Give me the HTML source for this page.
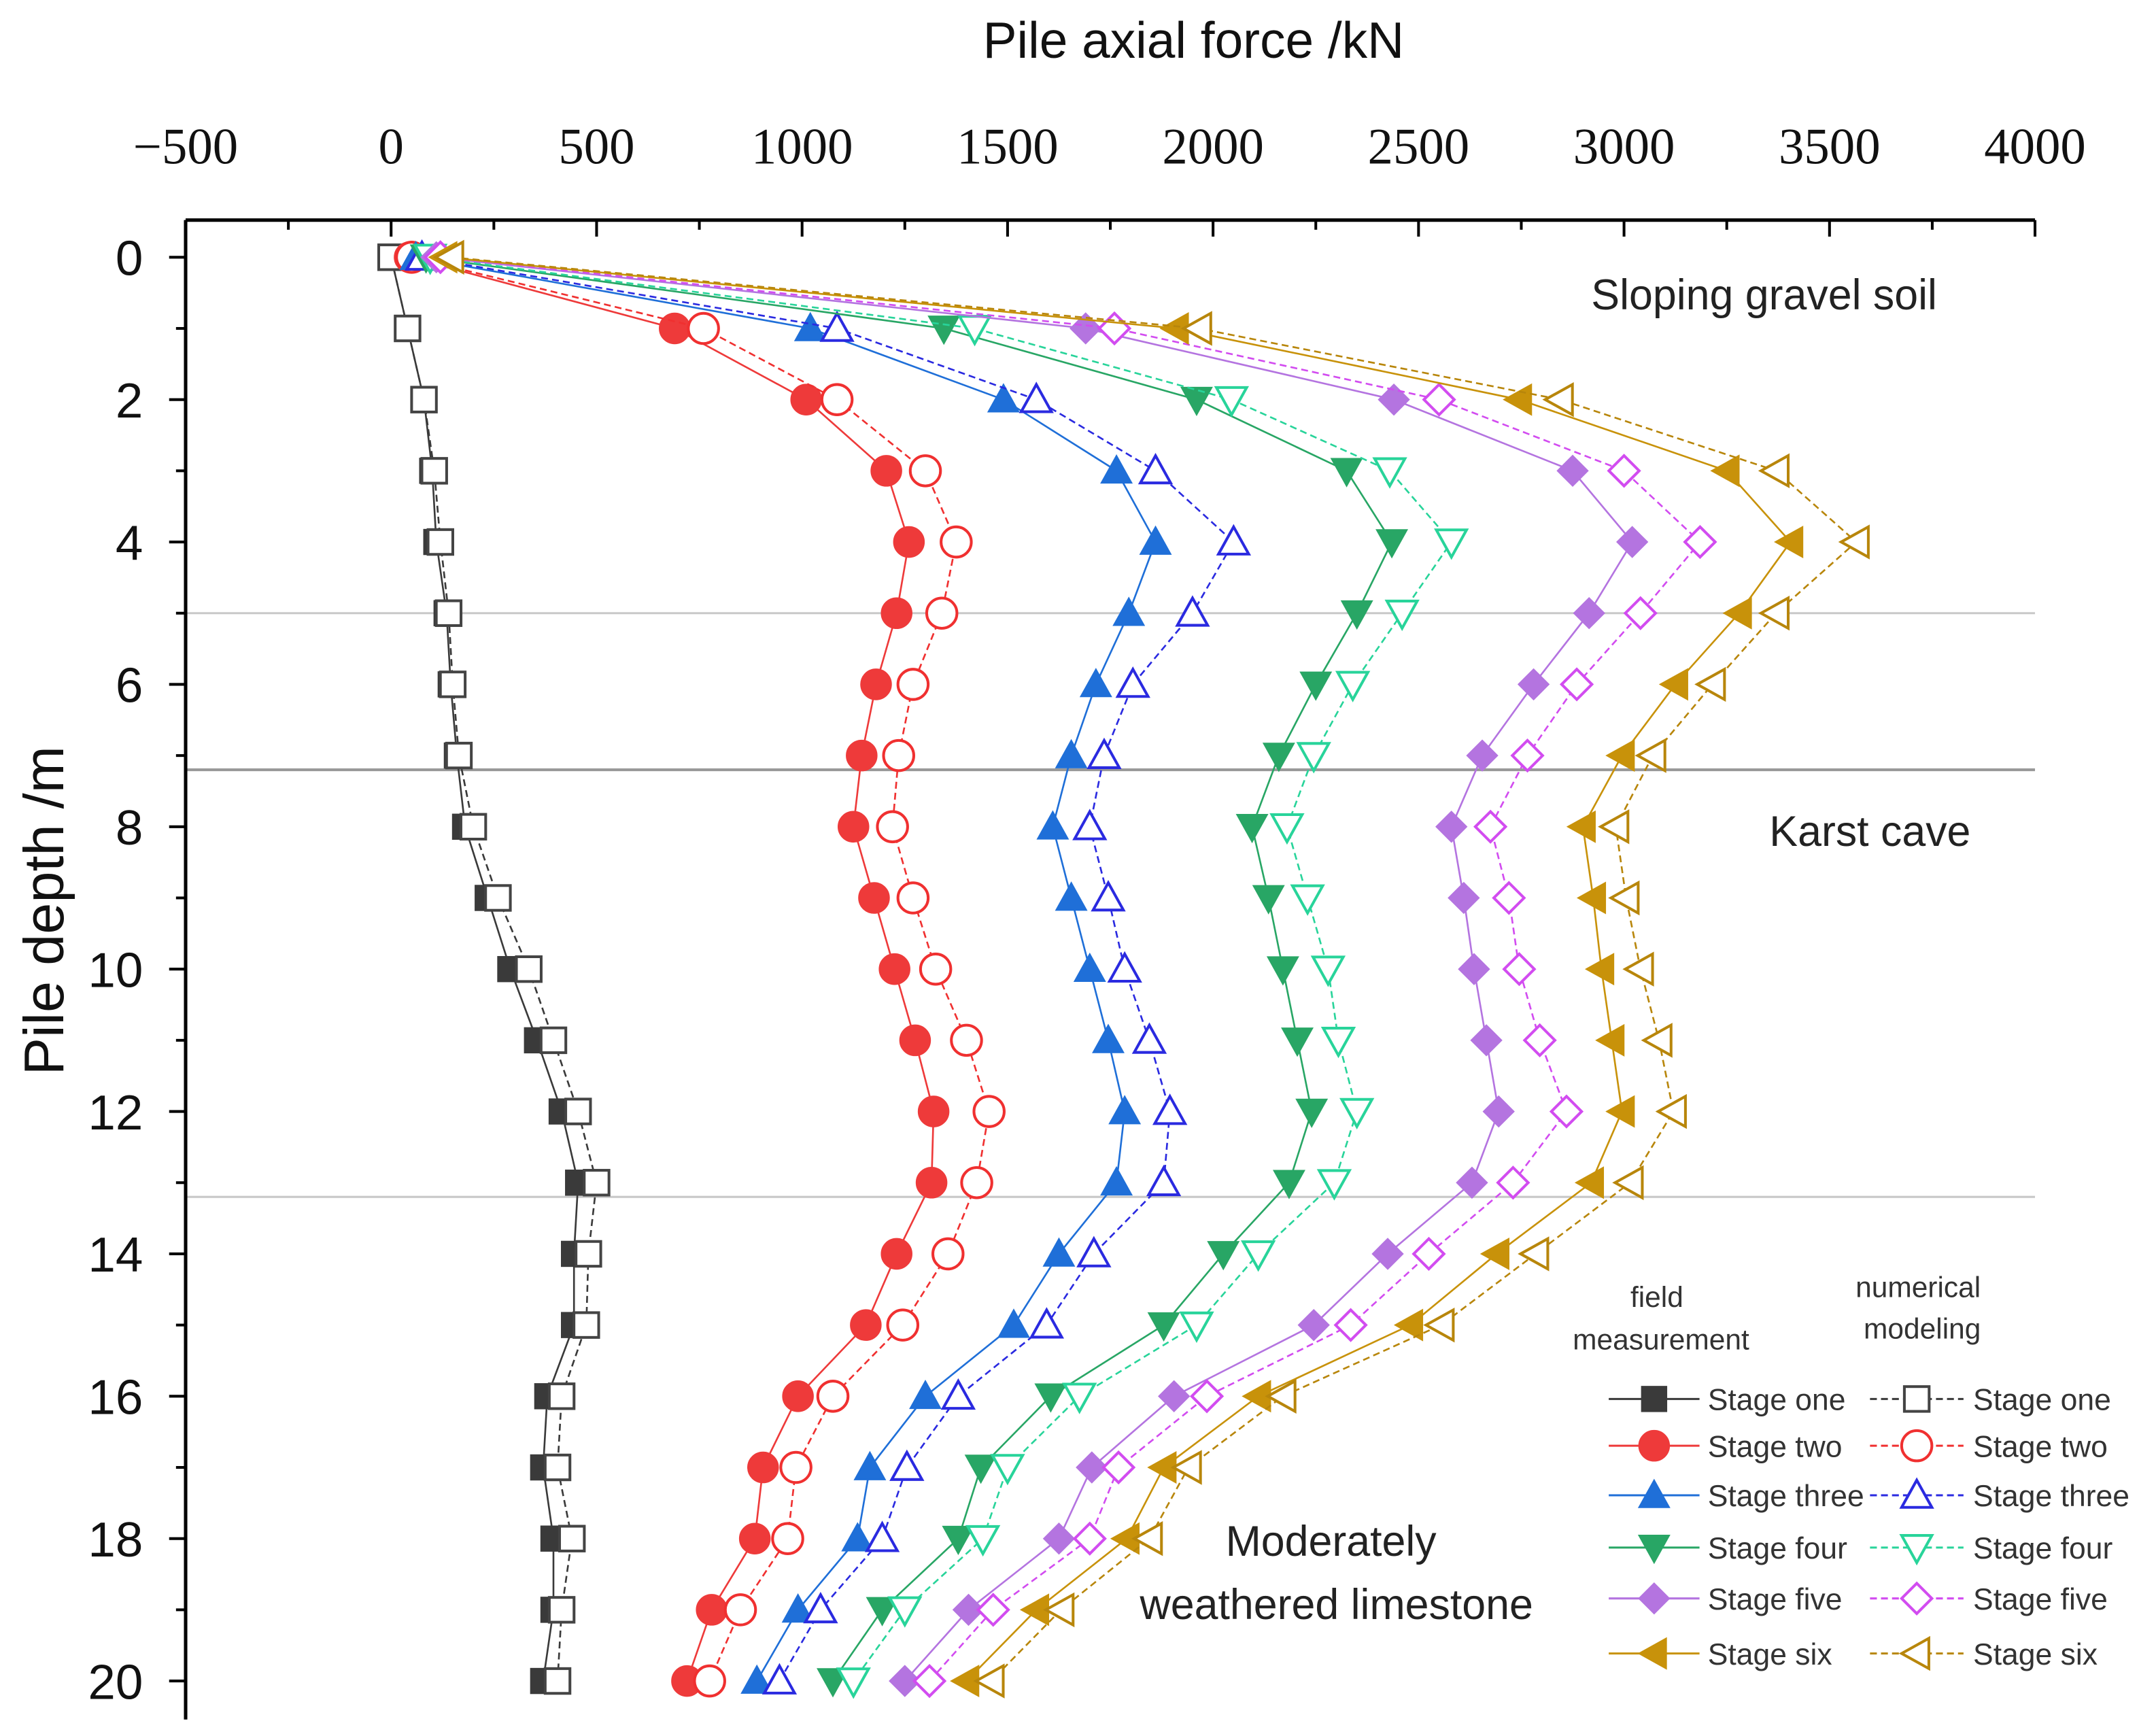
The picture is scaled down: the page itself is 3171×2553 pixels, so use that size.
<!DOCTYPE html>
<html><head><meta charset="utf-8"><style>
html,body{margin:0;padding:0;background:#fff;}
svg{display:block;font-family:"Liberation Sans",sans-serif;}
</style></head><body>
<svg id="chart" width="3171" height="2553" viewBox="0 0 1568 1262" preserveAspectRatio="none" xmlns="http://www.w3.org/2000/svg">
<rect width="1568" height="1262" fill="#fff"/>
<g id="axes"></g>
<g id="series"></g>
<g id="legend"></g>
</svg>
<script>
const depths = [0,1,2,3,4,5,6,7,8,9,10,11,12,13,14,15,16,17,18,19,20];
const xTicks = [-500,0,500,1000,1500,2000,2500,3000,3500,4000];
const yTicks = [0,2,4,6,8,10,12,14,16,18,20];
const layerDepths = [5,7.2,13.2];
const f1 = [0,40,80,100,110,135,145,160,180,235,290,355,415,455,445,445,380,370,395,395,370];
const n1 = [0,40,80,105,120,140,150,165,200,260,335,395,455,500,480,475,415,405,440,415,405];
const f2 = [45,690,1010,1205,1260,1230,1180,1145,1125,1175,1225,1275,1320,1315,1230,1155,990,905,885,780,720];
const n2 = [50,760,1085,1300,1375,1340,1270,1235,1220,1270,1325,1400,1455,1425,1355,1245,1075,985,965,850,775];
const f3 = [60,1020,1490,1765,1860,1795,1715,1655,1610,1655,1700,1745,1785,1765,1625,1515,1300,1165,1135,990,890];
const n3 = [75,1085,1570,1860,2050,1950,1805,1735,1700,1745,1785,1845,1895,1880,1710,1595,1380,1255,1195,1045,945];
const f4 = [85,1345,1960,2325,2435,2350,2250,2160,2095,2135,2170,2205,2240,2185,2025,1880,1605,1435,1380,1195,1075];
const n4 = [95,1420,2045,2430,2580,2460,2340,2245,2180,2230,2280,2305,2350,2295,2110,1960,1675,1500,1440,1250,1125];
const f5 = [110,1690,2440,2875,3020,2915,2780,2655,2580,2610,2635,2665,2695,2630,2425,2245,1905,1705,1625,1405,1250];
const n5 = [120,1760,2550,3000,3185,3040,2885,2765,2675,2720,2745,2795,2860,2730,2525,2335,1985,1770,1700,1465,1310];
const f6 = [130,1910,2745,3250,3405,3280,3125,2995,2900,2925,2945,2970,2995,2920,2690,2480,2110,1880,1790,1570,1400];
const n6 = [145,1965,2845,3370,3565,3370,3215,3070,2980,3005,3040,3085,3120,3015,2785,2555,2170,1940,1845,1630,1460];

const NS="http://www.w3.org/2000/svg";
const X0=135, X1=1480, Y0=187, Y1=1222, AXY=160;
function sx(v){return X0+(v+500)/4500*(X1-X0);}
function sy(d){return Y0+d/20*(Y1-Y0);}
function mk(tag,attrs,parent){const e=document.createElementNS(NS,tag);for(const k in attrs)e.setAttribute(k,attrs[k]);parent.appendChild(e);return e;}
const axes=document.getElementById('axes'), ser=document.getElementById('series'), leg=document.getElementById('legend');

layerDepths.forEach((d,i)=>{const l=mk('line',{x1:X0,x2:X1,y1:sy(d),y2:sy(d),stroke:i==1?'#999':'#c8c8c8','stroke-width':i==1?2:1.5},axes);

});
let a=mk('line',{x1:X0,x2:X1,y1:AXY,y2:AXY,stroke:'#000','stroke-width':2.5},axes);


a=mk('line',{x1:X0,x2:X0,y1:AXY,y2:1250,stroke:'#000','stroke-width':2.5},axes);


for(let v=-500;v<=4000;v+=250){const major=v%500===0;mk('line',{x1:sx(v),x2:sx(v),y1:AXY,y2:AXY+(major?12:7),stroke:'#000','stroke-width':2},axes);}
xTicks.forEach(v=>{const t=mk('text',{x:sx(v),y:119,'text-anchor':'middle','font-size':37,'font-family':'Liberation Serif, serif',fill:'#111'},axes);t.textContent=v<0?'\u2212'+(-v):String(v);

});
for(let d=0;d<=20;d++){const major=d%2===0;mk('line',{x1:X0,x2:X0-(major?12:7),y1:sy(d),y2:sy(d),stroke:'#000','stroke-width':2},axes);}
yTicks.forEach(d=>{const t=mk('text',{x:104,y:sy(d)+13,'text-anchor':'end','font-size':36,'font-family':'Liberation Sans, sans-serif',fill:'#111'},axes);t.textContent=String(d);

});
let t=mk('text',{x:868,y:42,'text-anchor':'middle','font-size':37,fill:'#111'},axes);t.textContent='Pile axial force /kN';


t=mk('text',{x:0,y:0,transform:'translate(46,662) rotate(-90)','text-anchor':'middle','font-size':41,fill:'#111'},axes);t.textContent='Pile depth /m';


[['Sloping gravel soil',1283,225],['Karst cave',1360,615],['Moderately',968,1131],['weathered limestone',972,1177]].forEach(a=>{const e=mk('text',{x:a[1],y:a[2],'text-anchor':'middle','font-size':31,fill:'#222'},axes);e.textContent=a[0];

});

function marker(shape,x,y,color,filled,parent){
  const r=11, fill=filled?color:'#fff', sw=filled?1:2;
  let e;
  if(shape==='square') e=mk('rect',{x:x-9,y:y-9,width:18,height:18,fill,stroke:filled?color:'#444','stroke-width':sw},parent);
  else if(shape==='circle') e=mk('circle',{cx:x,cy:y,r:r,fill,stroke:color,'stroke-width':sw},parent);
  else if(shape==='up') e=mk('polygon',{points:`${x},${y-r} ${x+r},${y+r*0.8} ${x-r},${y+r*0.8}`,fill,stroke:color,'stroke-width':sw},parent);
  else if(shape==='down') e=mk('polygon',{points:`${x-r},${y-r*0.8} ${x+r},${y-r*0.8} ${x},${y+r}`,fill,stroke:color,'stroke-width':sw},parent);
  else if(shape==='diamond') e=mk('polygon',{points:`${x},${y-r} ${x+r},${y} ${x},${y+r} ${x-r},${y}`,fill,stroke:color,'stroke-width':sw},parent);
  else e=mk('polygon',{points:`${x-r},${y} ${x+r*0.8},${y-r} ${x+r*0.8},${y+r}`,fill,stroke:color,'stroke-width':sw},parent);
  return e;
}
const seriesDefs=[
 [f1,'square','#3a3a3a',true,'stage-one-field'],[n1,'square','#3a3a3a',false,'stage-one-numerical'],
 [f2,'circle','#ee3a3a',true,'stage-two-field'],[n2,'circle','#f03030',false,'stage-two-numerical'],
 [f3,'up','#1f6fd8',true,'stage-three-field'],[n3,'up','#2a2ae0',false,'stage-three-numerical'],
 [f4,'down','#28a665',true,'stage-four-field'],[n4,'down','#28d49a',false,'stage-four-numerical'],
 [f5,'diamond','#b474e0',true,'stage-five-field'],[n5,'diamond','#d24cf0',false,'stage-five-numerical'],
 [f6,'left','#c8920a',true,'stage-six-field'],[n6,'left','#b8860b',false,'stage-six-numerical']];
seriesDefs.forEach(s=>{
  const g=mk('g',{},ser);
  
  
  const pts=s[0].map((v,i)=>sx(v)+','+sy(depths[i])).join(' ');
  const pl=mk('polyline',{points:pts,fill:'none',stroke:s[2],'stroke-width':1.3,'stroke-dasharray':s[3]?'':'5,3'},g);
  
  
  s[0].forEach((v,i)=>{const m=marker(s[1],sx(v),sy(depths[i]),s[2],s[3],g);
    
    });
});
[['field',1205,950],['measurement',1208,981],['numerical',1395,943],['modeling',1398,973]].forEach(a=>{const e=mk('text',{x:a[1],y:a[2],'text-anchor':'middle','font-size':21,fill:'#333'},leg);e.textContent=a[0];

});
const names=['Stage one','Stage two','Stage three','Stage four','Stage five','Stage six'];
const rowsY=[1017,1051,1087,1125,1162,1202];
names.forEach((n,i)=>{
  [[0,1170,1236,1203,1242],[1,1360,1428,1394,1435]].forEach(c=>{
    const s=seriesDefs[i*2+c[0]];
    const g=mk('g',{},leg);
    
    
    mk('line',{x1:c[1],x2:c[2],y1:rowsY[i],y2:rowsY[i],stroke:s[2],'stroke-width':1.5,'stroke-dasharray':s[3]?'':'5,3'},g);
    marker(s[1],c[3],rowsY[i],s[2],s[3],g);
    const e=mk('text',{x:c[4],y:rowsY[i]+8,'font-size':22,fill:'#333'},g);e.textContent=n;
  });
});
</script>
</body></html>
